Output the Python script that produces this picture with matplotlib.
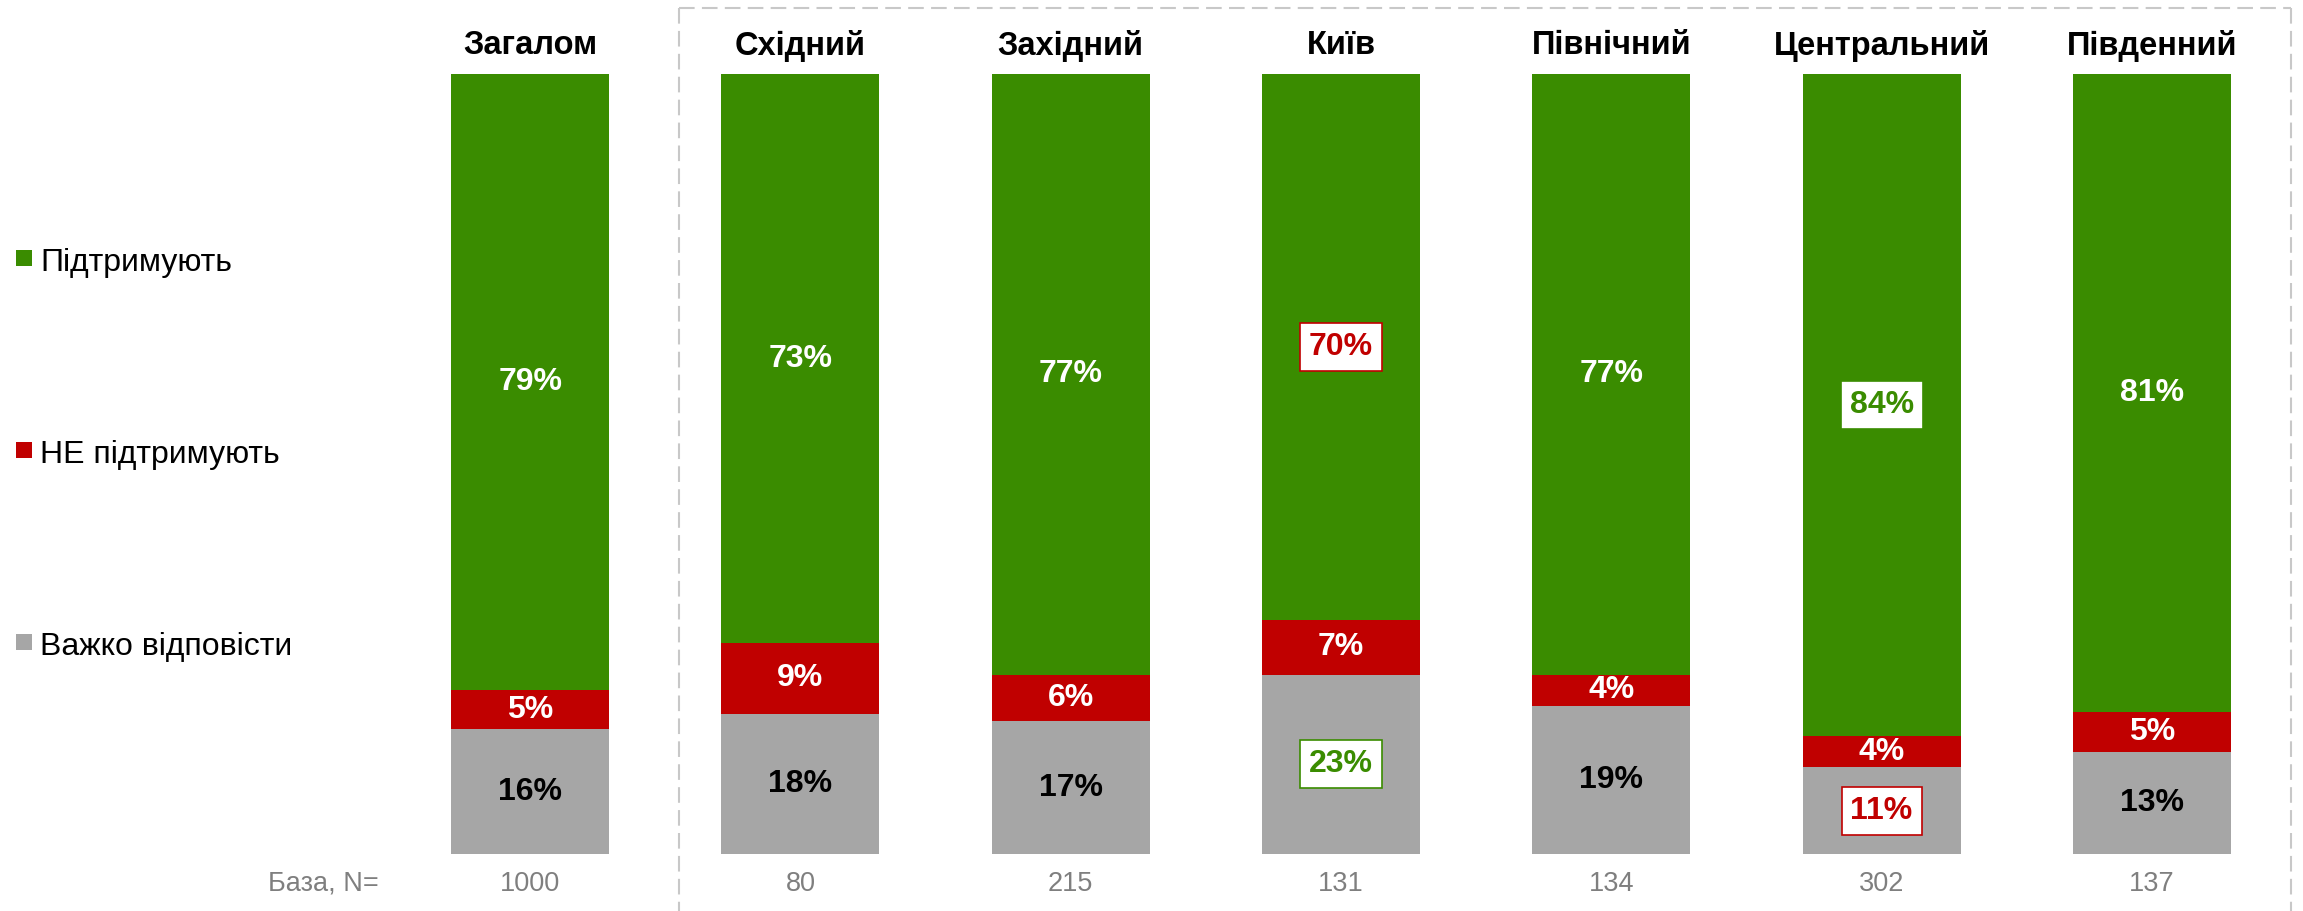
import matplotlib
matplotlib.use("Agg")
import matplotlib.pyplot as plt
import numpy as np
from matplotlib.lines import Line2D
from matplotlib.patches import Rectangle
import matplotlib.transforms as mtransforms

plt.rcParams['font.family'] = ['Liberation Sans', 'DejaVu Sans']

# ---- data ----
regions = ["Загалом", "Східний", "Західний", "Київ", "Північний", "Центральний", "Південний"]
support = [79, 73, 77, 70, 77, 84, 81]
oppose = [5, 9, 6, 7, 4, 4, 5]
hard = [16, 18, 17, 23, 19, 11, 13]
bases = ["1000", "80", "215", "131", "134", "302", "137"]
series_names = ["Підтримують", "НЕ підтримують", "Важко відповісти"]
base_label = "База, N="

GREEN = "#3A8C00"
RED = "#C00000"
GRAY = "#A6A6A6"

# highlighted labels: (bar index, series) -> colour of text/border
highlights = {(3, "support"): RED, (3, "hard"): GREEN,
              (5, "support"): GREEN, (5, "hard"): RED}

W, H = 2303, 911
fig = plt.figure(figsize=(W / 100, H / 100), dpi=100)
ax = fig.add_axes([395 / W, 1 - 854 / H, (2287 - 395) / W, (854 - 74) / H])
ax.set_xlim(-0.5, len(regions) - 0.5)
ax.set_ylim(0, 100)
ax.axis("off")

x = np.arange(len(regions))
sup = np.array(support, float)
opp = np.array(oppose, float)
hrd = np.array(hard, float)
tot = sup + opp + hrd
sup_n, opp_n, hrd_n = sup / tot * 100, opp / tot * 100, hrd / tot * 100

bw = 0.585
ax.bar(x, hrd_n, width=bw, color=GRAY, linewidth=0)
ax.bar(x, opp_n, width=bw, bottom=hrd_n, color=RED, linewidth=0)
ax.bar(x, sup_n, width=bw, bottom=hrd_n + opp_n, color=GREEN, linewidth=0)

lab_fs = 23
for i in range(len(regions)):
    segs = [("hard", hrd[i], 0, hrd_n[i], "black"),
            ("oppose", opp[i], hrd_n[i], opp_n[i], "white"),
            ("support", sup[i], hrd_n[i] + opp_n[i], sup_n[i], "white")]
    for key, val, bot, h, col in segs:
        yc = bot + h / 2
        txt = f"{int(val)}%"
        if (i, key) in highlights:
            hc = highlights[(i, key)]
            ax.text(i, yc, txt, ha="center", va="center", fontsize=lab_fs,
                    fontweight="bold", color=hc,
                    bbox=dict(boxstyle="square,pad=0.28", fc="white", ec=hc, lw=1.2))
        else:
            ax.text(i, yc, txt, ha="center", va="center", fontsize=lab_fs,
                    fontweight="bold", color=col)

# titles and base
trans = mtransforms.blended_transform_factory(ax.transData, fig.transFigure)
for i, r in enumerate(regions):
    ax.text(i, 1 - 46 / H, r, transform=trans, ha="center", va="center",
            fontsize=23.5, fontweight="bold", color="black")
    ax.text(i, 1 - 884 / H, bases[i], transform=trans, ha="center", va="center",
            fontsize=19.5, color="#7F7F7F")
fig.text(323 / W, 1 - 884 / H, base_label, ha="center", va="center",
         fontsize=19.5, color="#7F7F7F")

# legend (manual, stacked vertically on left)
leg_y = [258, 450, 642]
for name, col, yy in zip(series_names, [GREEN, RED, GRAY], leg_y):
    fig.add_artist(Rectangle((16 / W, 1 - (yy + 8) / H), 16 / W, 16 / H,
                             transform=fig.transFigure, fc=col, ec="none"))
    fig.text(40 / W, 1 - (yy + 13) / H, name, ha="left", va="baseline",
             fontsize=23, color="black")

# dashed frame around regions
dcol = "#C8C8C8"
ls = (0, (7.5, 3.5))
for xs, ys in [([679, 2291], [8, 8]), ([679, 679], [8, 911]), ([2291, 2291], [8, 911])]:
    fig.add_artist(Line2D([v / W for v in xs], [1 - v / H for v in ys],
                          transform=fig.transFigure, color=dcol, lw=1.5, linestyle=ls))

fig.savefig("out.png", dpi=100)
